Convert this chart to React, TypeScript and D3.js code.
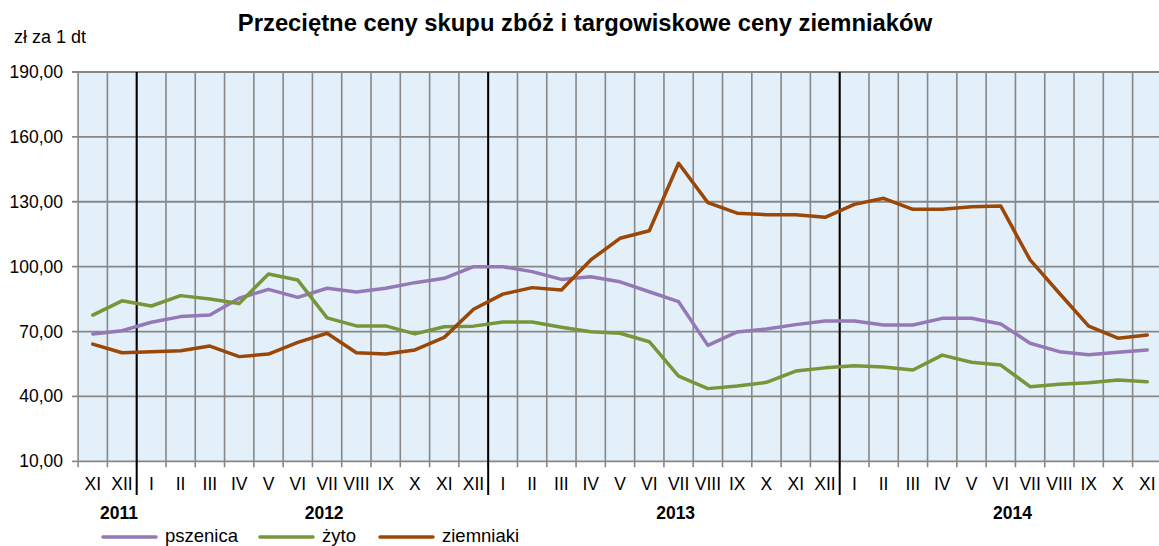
import React from 'react';
import * as d3 from 'd3';

const months = ['XI', 'XII', 'I', 'II', 'III', 'IV', 'V', 'VI', 'VII', 'VIII', 'IX', 'X', 'XI', 'XII',
  'I', 'II', 'III', 'IV', 'V', 'VI', 'VII', 'VIII', 'IX', 'X', 'XI', 'XII',
  'I', 'II', 'III', 'IV', 'V', 'VI', 'VII', 'VIII', 'IX', 'X', 'XI'];
// year label with number of months it spans
const years = ['2011', '2012', '2013', '2014'];
const yearSpans = [2, 12, 12, 11];

const pszenica = [68.9, 70.4, 74.3, 76.9, 77.6, 85.4, 89.5, 85.8, 90.0, 88.3, 90.0, 92.6, 94.6, 100.0,
  100.0, 97.7, 94.1, 95.3, 93.0, 88.4, 83.8, 63.6, 69.8, 71.2, 73.2, 74.9,
  74.9, 73.0, 73.0, 76.1, 76.1, 73.5, 64.6, 60.7, 59.3, 60.4, 61.5];
const zyto = [77.6, 84.2, 81.8, 86.6, 85.0, 83.0, 96.6, 93.8, 76.3, 72.6, 72.6, 68.9, 72.2, 72.5,
  74.4, 74.4, 72.0, 69.9, 69.2, 65.3, 49.4, 43.6, 44.8, 46.5, 51.7, 53.2,
  54.2, 53.6, 52.2, 59.1, 55.8, 54.5, 44.5, 45.6, 46.3, 47.6, 46.8];
const ziemniaki = [64.2, 60.2, 60.7, 61.1, 63.3, 58.4, 59.6, 65.0, 69.2, 60.2, 59.6, 61.5, 67.3, 80.3,
  87.3, 90.3, 89.2, 103.1, 113.1, 116.6, 147.8, 129.6, 124.7, 124.0, 124.0, 122.8,
  128.8, 131.6, 126.5, 126.5, 127.7, 128.0, 103.1, 87.7, 72.5, 66.9, 68.4];

const yTicks = [10, 40, 70, 100, 130, 160, 190];

const series = [
  { name: 'pszenica', values: pszenica, color: '#9479b6' },
  { name: 'żyto', values: zyto, color: '#77963a' },
  { name: 'ziemniaki', values: ziemniaki, color: '#9a4708' },
];

const W = 1159;
const H = 546;
const left = 78.1;
const right = 1161.9;
const top = 72;
const bottom = 461.3;
const font = '"Liberation Sans", Arial, sans-serif';

const App = () => {
  const idx = months.map((_, i) => i);
  const x = d3.scaleBand<number>().domain(idx).range([left, right]).padding(0);
  const y = d3.scaleLinear().domain([10, 190]).range([bottom, top]);
  const bw = x.bandwidth();
  const cx = (i: number) => (x(i) as number) + bw / 2;

  const line = d3
    .line<number>()
    .x((_, i) => cx(i))
    .y((d) => y(d));

  // year boundaries
  const starts: number[] = [];
  let acc = 0;
  yearSpans.forEach((s) => {
    starts.push(acc);
    acc += s;
  });

  const legendX = [103, 260, 380];

  return (
    <svg width={W} height={H} style={{ position: 'absolute', left: 0, top: 0 }} fontFamily={font}>
      <rect x={0} y={0} width={W} height={H} fill="#fff" />
      <text x={585} y={31} textAnchor="middle" fontSize={23.8} fontWeight="bold" fill="#000">
        Przeciętne ceny skupu zbóż i targowiskowe ceny ziemniaków
      </text>
      <text x={14} y={43} fontSize={18} fill="#000">zł za 1 dt</text>

      <rect x={left} y={top} width={right - left} height={bottom - top} fill="#e3f0fa" />

      {idx.map((i) => (
        <line key={'v' + i} x1={x(i)} x2={x(i)} y1={top} y2={bottom + 6} stroke="#878787" strokeWidth={1.6} />
      ))}
      {yTicks.map((t) => (
        <g key={'h' + t}>
          <line x1={left - 6} x2={right} y1={y(t)} y2={y(t)} stroke="#878787" strokeWidth={1.8} />
          <text x={63} y={y(t) + 6} textAnchor="end" fontSize={17.5} fill="#000">
            {d3.format('.2f')(t).replace('.', ',')}
          </text>
        </g>
      ))}

      {starts.slice(1).map((s) => (
        <line key={'y' + s} x1={x(s)} x2={x(s)} y1={top} y2={495} stroke="#000" strokeWidth={2} />
      ))}

      {months.map((m, i) => (
        <text key={'m' + i} x={cx(i)} y={490} textAnchor="middle" fontSize={17.5} fill="#000">
          {m}
        </text>
      ))}
      {years.map((yr, k) => (
        <text
          key={yr}
          x={(x(starts[k]) as number) + (yearSpans[k] * bw) / 2 + bw * 0.4}
          y={519}
          textAnchor="middle"
          fontSize={17.5}
          fontWeight="bold"
          fill="#000"
        >
          {yr}
        </text>
      ))}

      {series.map((s) => (
        <path
          key={s.name}
          d={line(s.values) || ''}
          fill="none"
          stroke={s.color}
          strokeWidth={3.5}
          strokeLinejoin="round"
          strokeLinecap="round"
        />
      ))}

      {series.map((s, k) => (
        <g key={'l' + s.name}>
          <line x1={legendX[k]} x2={legendX[k] + 53} y1={537} y2={537} stroke={s.color} strokeWidth={3.5} strokeLinecap="round" />
          <text x={legendX[k] + 62} y={542} fontSize={18.5} fill="#000">
            {s.name}
          </text>
        </g>
      ))}
    </svg>
  );
};

export default App;
